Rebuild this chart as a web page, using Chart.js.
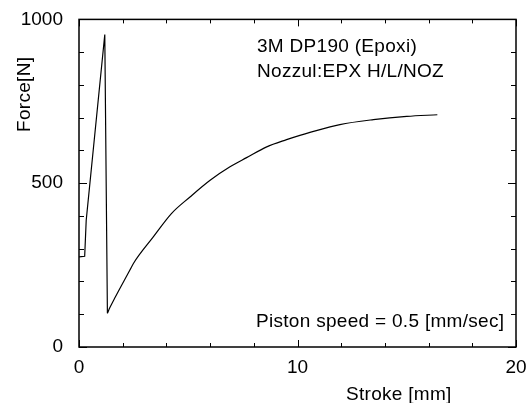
<!DOCTYPE html>
<html>
<head>
<meta charset="utf-8">
<script src="https://cdn.jsdelivr.net/npm/chart.js@4/dist/chart.umd.min.js"></script>
<style>
html,body{margin:0;padding:0;background:#fff;}
#wrap{width:532px;height:403px;position:relative;}
</style>
</head>
<body>
<div id="wrap"><canvas id="c" width="532" height="403"></canvas></div>
<script>
// Initial build-up and spike: Stroke [mm] / Force [N]
const spikeStroke = [0, 0.26, 0.33, 1.18, 1.30];
const spikeForce = [275, 277, 387, 954, 103];
// Recovery curve after the drop: Stroke [mm] / Force [N]
const curveStroke = [1.30, 1.42, 1.65, 2.33, 2.49, 3.40, 4.24, 5.08, 6.00, 6.91, 7.67, 8.59, 9.50, 10.11, 10.57, 11.94, 13.47, 15.00, 16.40];
const curveForce = [103, 121, 151, 235, 255, 336, 408, 458, 509, 550, 578, 611, 633, 646, 655, 679, 694, 704, 709];
const xTickLabels = [0, 10, 20];
const yTickLabels = [0, 500, 1000];
const xAxisTitle = 'Stroke [mm]';
const yAxisTitle = 'Force[N]';
const noteLines = ['3M DP190 (Epoxi)', 'Nozzul:EPX H/L/NOZ'];
const speedNote = 'Piston speed = 0.5 [mm/sec]';

const FONT = '"Liberation Sans", Arial, sans-serif';
const toPts = (xs, ys) => xs.map((x, i) => ({x: x, y: ys[i]}));

const framePlugin = {
  id: 'frame',
  afterDraw(chart) {
    const ctx = chart.ctx;
    const a = chart.chartArea;
    const xs = chart.scales.x, ys = chart.scales.y;
    ctx.save();
    ctx.strokeStyle = '#000';
    ctx.lineWidth = 1.5;
    ctx.strokeRect(a.left, a.top, a.right - a.left, a.bottom - a.top);
    ctx.lineWidth = 1;
    ctx.beginPath();
    for (let v = xs.min; v <= xs.max + 1e-9; v += 2) {
      const p = Math.round(xs.getPixelForValue(v)) + 0.5;
      const len = xTickLabels.includes(v) ? 7 : 4;
      ctx.moveTo(p, a.bottom); ctx.lineTo(p, a.bottom - len);
      ctx.moveTo(p, a.top); ctx.lineTo(p, a.top + len);
    }
    for (let v = ys.min; v <= ys.max + 1e-9; v += 100) {
      const p = Math.round(ys.getPixelForValue(v)) + 0.5;
      const len = yTickLabels.includes(v) ? 8 : 5;
      ctx.moveTo(a.left, p); ctx.lineTo(a.left + len, p);
      ctx.moveTo(a.right, p); ctx.lineTo(a.right - len, p);
    }
    ctx.stroke();

    ctx.fillStyle = '#000';
    ctx.font = '19px ' + FONT;
    try { ctx.letterSpacing = '0.3px'; } catch (e) {}
    ctx.textAlign = 'left';
    ctx.textBaseline = 'alphabetic';
    ctx.fillText(noteLines[0], 257, 52);
    ctx.fillText(noteLines[1], 257, 77);
    ctx.fillText(speedNote, 256, 327);
    ctx.fillText(xAxisTitle, 346, 400);
    ctx.save();
    ctx.translate(30, 132);
    ctx.rotate(-Math.PI / 2);
    ctx.fillText(yAxisTitle, 0, 0);
    ctx.restore();
    ctx.restore();
  }
};

new Chart(document.getElementById('c'), {
  type: 'scatter',
  data: {
    datasets: [{
      data: toPts(spikeStroke, spikeForce),
      showLine: true,
      borderColor: '#000',
      borderWidth: 1.2,
      pointRadius: 0,
      tension: 0,
      fill: false
    }, {
      data: toPts(curveStroke, curveForce),
      showLine: true,
      borderColor: '#000',
      borderWidth: 1.2,
      pointRadius: 0,
      cubicInterpolationMode: 'monotone',
      fill: false
    }]
  },
  options: {
    responsive: false,
    animation: false,
    devicePixelRatio: 1,
    layout: {padding: {top: 19, right: 16, left: 0, bottom: 0}},
    plugins: {legend: {display: false}, tooltip: {enabled: false}},
    scales: {
      x: {
        type: 'linear', min: 0, max: 20,
        afterFit(s) { s.height = 56; },
        grid: {display: false},
        border: {display: false},
        ticks: {
          stepSize: 10, padding: 1, color: '#000', maxRotation: 0,
          font: {family: FONT, size: 19},
          callback: v => xTickLabels.includes(v) ? String(v) : ''
        }
      },
      y: {
        type: 'linear', min: 0, max: 1000,
        afterFit(s) { s.width = 79; },
        grid: {display: false},
        border: {display: false},
        ticks: {
          stepSize: 500, padding: 8, color: '#000',
          font: {family: FONT, size: 19},
          callback: v => yTickLabels.includes(v) ? String(v) : ''
        }
      }
    }
  },
  plugins: [framePlugin]
});
</script>
</body>
</html>
